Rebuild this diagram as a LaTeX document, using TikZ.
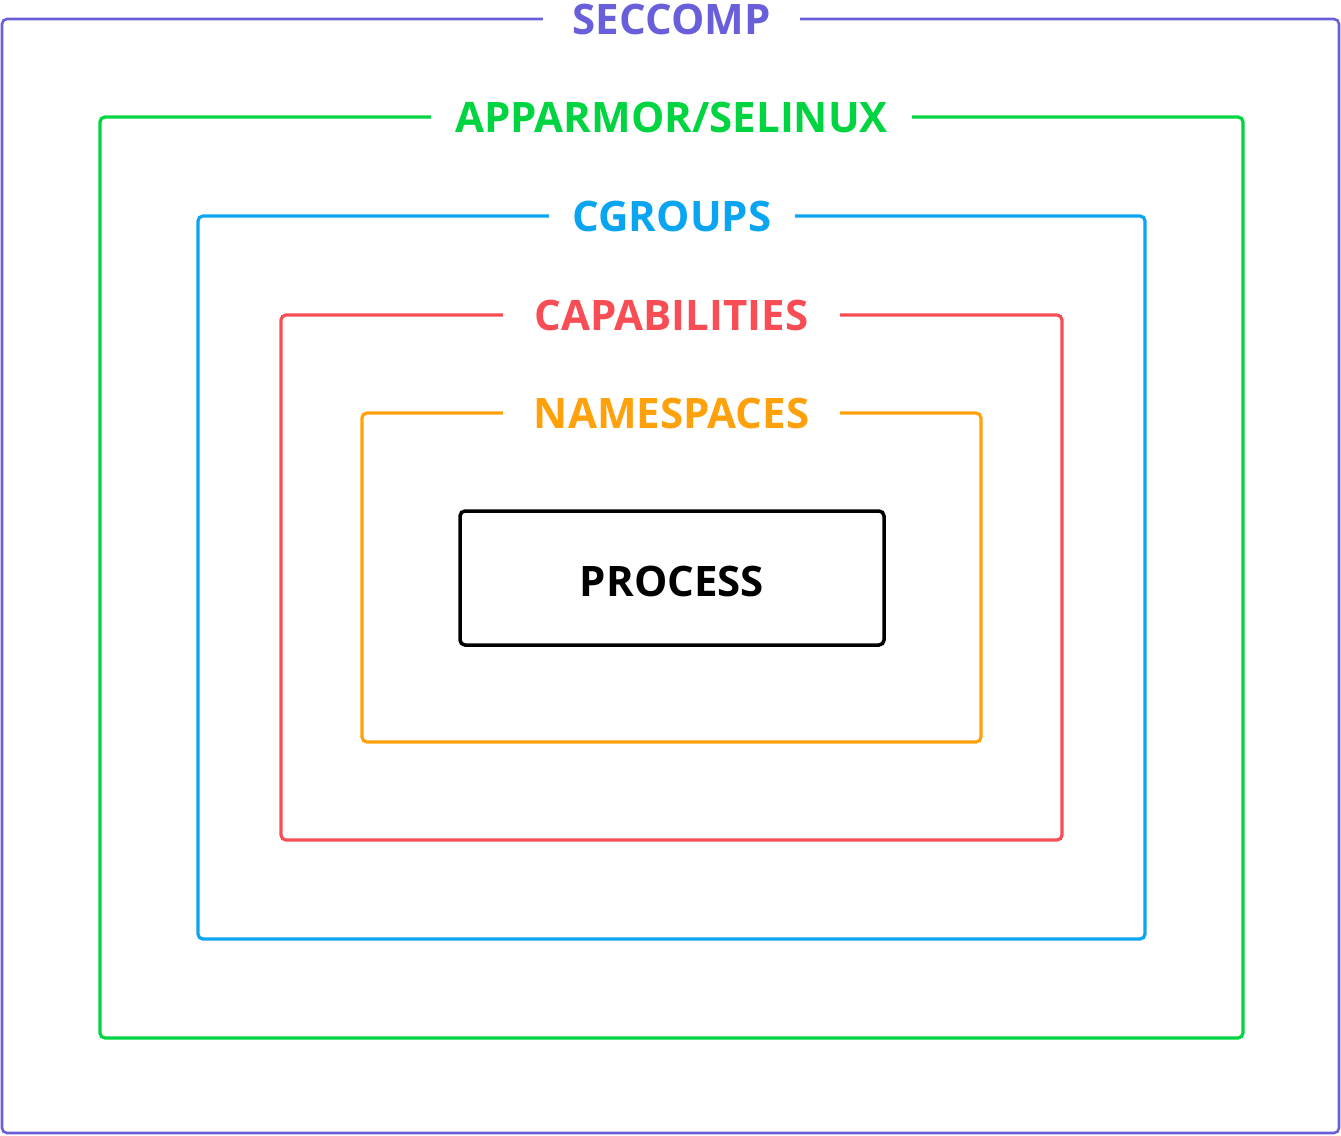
\documentclass[tikz,border=0pt]{standalone}
\usepackage{fontspec}
\setmainfont{Open Sans}
\definecolor{cseccomp}{HTML}{6A5FDB}
\definecolor{capparmor}{HTML}{00D440}
\definecolor{ccgroups}{HTML}{0AA5F0}
\definecolor{ccap}{HTML}{F84D55}
\definecolor{cns}{HTML}{FFA10A}
\begin{document}
\begin{tikzpicture}[x=1pt,y=-1pt,
  layer/.style={line width=3.2pt, rounded corners=5pt},
  lbl/.style={fill=white, inner xsep=24pt, inner ysep=2pt, font=\fontsize{42}{48}\selectfont\bfseries, anchor=center}]
\useasboundingbox (0,0) rectangle (1341,1135);
\draw[layer, cseccomp, line width=2.6pt] (2,19) rectangle (1339,1133);
\draw[layer, capparmor] (100,117) rectangle (1243,1038);
\draw[layer, ccgroups] (198,216) rectangle (1145,939);
\draw[layer, ccap] (281,315) rectangle (1062,840);
\draw[layer, cns] (362,413) rectangle (981,742);
\node[lbl, text=cseccomp, minimum width=257pt] (seccomp) at (671.5,19) {SECCOMP};
\node[lbl, text=capparmor] (apparmor) at (671.5,117) {APPARMOR/SELINUX};
\node[lbl, text=ccgroups] (cgroups) at (672,216) {CGROUPS};
\node[lbl, text=ccap, minimum width=337pt] (caps) at (671.5,315) {CAPABILITIES};
\node[lbl, text=cns, minimum width=337pt] (ns) at (671.5,413) {NAMESPACES};
\node[draw=black, line width=3.5pt, rounded corners=5pt, minimum width=424pt, minimum height=134pt,
  text height=36pt, text depth=0pt,
  font=\fontsize{42}{48}\selectfont\bfseries] (process) at (672,578) {PROCESS};
\end{tikzpicture}
\end{document}
